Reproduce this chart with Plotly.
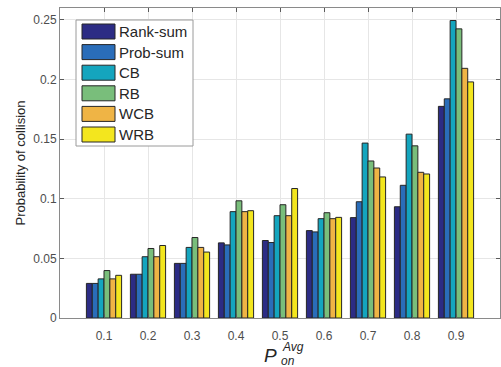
import plotly.graph_objects as go

categories = ["0.1", "0.2", "0.3", "0.4", "0.5", "0.6", "0.7", "0.8", "0.9"]
series_names = ["Rank-sum", "Prob-sum", "CB", "RB", "WCB", "WRB"]
rank_sum = [0.029, 0.0367, 0.0458, 0.063, 0.065, 0.0733, 0.0842, 0.0933, 0.1775]
prob_sum = [0.029, 0.0367, 0.0458, 0.0613, 0.0633, 0.0722, 0.0975, 0.1113, 0.1838]
cb = [0.0328, 0.0514, 0.0592, 0.0892, 0.0858, 0.0833, 0.1467, 0.1542, 0.2495]
rb = [0.0398, 0.0583, 0.0675, 0.0983, 0.095, 0.0883, 0.1317, 0.1444, 0.2425]
wcb = [0.0328, 0.0514, 0.0592, 0.0892, 0.0858, 0.0833, 0.1258, 0.1222, 0.2094]
wrb = [0.0358, 0.0608, 0.0553, 0.09, 0.1086, 0.0844, 0.1183, 0.1208, 0.198]
series_values = [rank_sum, prob_sum, cb, rb, wcb, wrb]
colors = ["#2c2c84", "#2a6db9", "#14a5be", "#79be7b", "#efb445", "#f3e61e"]
y_ticks = [0, 0.05, 0.1, 0.15, 0.2, 0.25]
y_ticklabels = ["0", "0.05", "0.1", "0.15", "0.2", "0.25"]

FONT = "Liberation Sans, Arial, sans-serif"
W, H = 501, 367
ML, MR, MT, MB = 60, 1, 8, 49
PW, PH = W - ML - MR, H - MT - MB


def px_x(x):
    return (x - ML) / PW


def px_y(y):
    return (H - MB - y) / PH


x_pos = list(range(1, len(categories) + 1))

fig = go.Figure()
for name, vals, col in zip(series_names, series_values, colors):
    fig.add_trace(go.Bar(
        x=x_pos, y=vals, name=name,
        marker=dict(color=col, line=dict(color="#262626", width=1)),
    ))

axis_common = dict(
    showline=True, linecolor="#8a8a8a", linewidth=1, mirror="ticks",
    ticks="inside", ticklen=4, tickcolor="#5a5a5a",
    showgrid=True, gridcolor="#e6e6e6", gridwidth=1,
    zeroline=False, automargin=False,
    tickfont=dict(family=FONT, size=12, color="#4d4d4d"),
)

fig.update_layout(
    width=W, height=H,
    margin=dict(l=ML, r=MR, t=MT, b=MB, autoexpand=False),
    paper_bgcolor="white", plot_bgcolor="white",
    barmode="group", bargap=0.2, bargroupgap=0,
    font=dict(family=FONT, color="#262626"),
    showlegend=False,
    xaxis=dict(
        range=[0, 10], tickvals=x_pos, ticktext=categories, ticklabelstandoff=7,
        **axis_common
    ),
    yaxis=dict(
        range=[0, 0.26], tickvals=y_ticks, ticktext=y_ticklabels,
        title=dict(text="Probability of collision", font=dict(size=13, color="#262626"), standoff=4),
        **axis_common
    ),
)

# Legend box (MATLAB-style, large swatches)
box_l, box_r, box_t, box_b = 76, 193, 20, 146
fig.add_shape(type="rect", xref="paper", yref="paper",
              x0=px_x(box_l), x1=px_x(box_r), y0=px_y(box_b), y1=px_y(box_t),
              fillcolor="white", line=dict(color="#9a9a9a", width=1), layer="above")
for i, (name, col) in enumerate(zip(series_names, colors)):
    top = 24 + i * 20.6
    bot = top + 15
    fig.add_shape(type="rect", xref="paper", yref="paper",
                  x0=px_x(82), x1=px_x(115), y0=px_y(bot), y1=px_y(top),
                  fillcolor=col, line=dict(color="#262626", width=1), layer="above")
    fig.add_annotation(xref="paper", yref="paper", x=px_x(117), y=px_y((top + bot) / 2),
                       text=name, showarrow=False, xanchor="left", yanchor="middle",
                       font=dict(size=15, color="#262626", family=FONT))

# x-axis title: P with stacked super/subscript
fig.add_annotation(xref="paper", yref="paper", x=px_x(279), y=px_y(355),
                   text="<i>P</i>", showarrow=False, xanchor="right", yanchor="middle",
                   font=dict(size=19, color="#262626", family=FONT))
fig.add_annotation(xref="paper", yref="paper", x=px_x(280), y=px_y(347),
                   text="<i>Avg</i>", showarrow=False, xanchor="left", yanchor="middle",
                   font=dict(size=12, color="#262626", family=FONT))
fig.add_annotation(xref="paper", yref="paper", x=px_x(279), y=px_y(361),
                   text="<i>on</i>", showarrow=False, xanchor="left", yanchor="middle",
                   font=dict(size=12, color="#262626", family=FONT))

fig.write_html("out.html", config={"displayModeBar": False},
               post_script="document.body.style.margin='0';")
